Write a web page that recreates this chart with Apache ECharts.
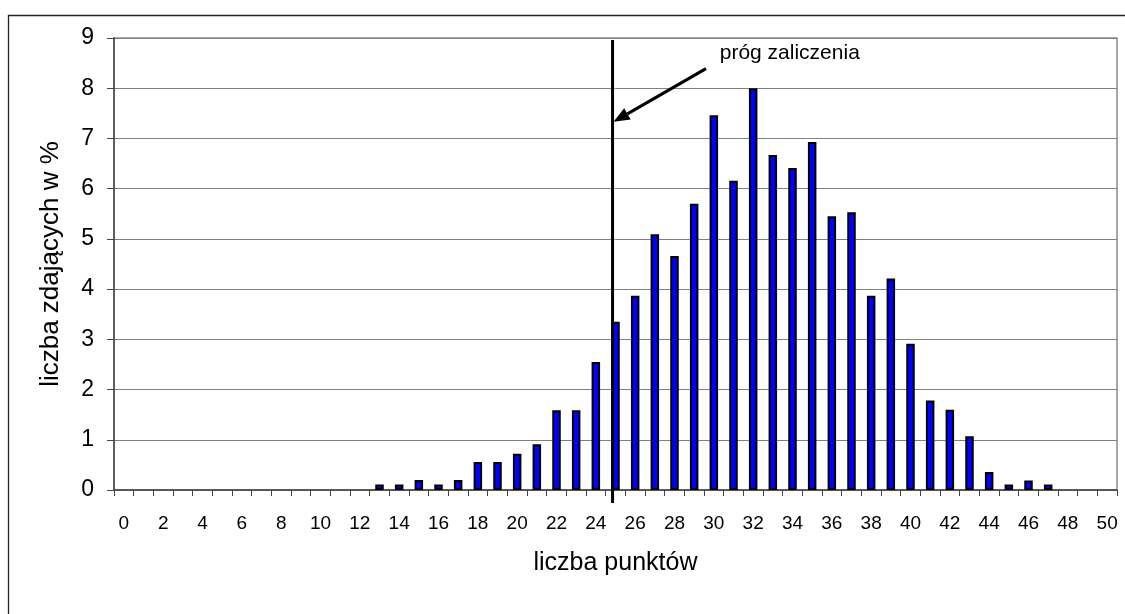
<!DOCTYPE html>
<html>
<head>
<meta charset="utf-8">
<script src="https://cdn.jsdelivr.net/npm/echarts@6/dist/echarts.min.js"></script>
<style>
html,body{margin:0;padding:0;background:#fff;}
#chart{width:1125px;height:614px;}
</style>
</head>
<body>
<div id="chart"></div>
<script>
const categories = ['0','1','2','3','4','5','6','7','8','9','10','11','12','13','14','15','16','17','18','19','20',
  '21','22','23','24','25','26','27','28','29','30','31','32','33','34','35','36','37','38','39','40',
  '41','42','43','44','45','46','47','48','49','50'];
const values = [0,0,0,0,0,0,0,0,0,0,0,0,0,
  0.11,0.11,0.2,0.11,0.2,0.56,0.56,0.72,0.91,1.59,1.59,2.55,
  3.35,3.87,5.09,4.66,5.70,7.46,6.16,8.0,6.67,6.41,6.93,5.45,5.53,3.87,4.21,
  2.91,1.78,1.60,1.07,0.36,0.11,0.19,0.11,0,0,0];
const yTicks = [0,1,2,3,4,5,6,7,8,9];
const xAxisTitle = 'liczba punktów';
const yAxisTitle = 'liczba zdających w %';
const threshold = 25;
const thresholdLabel = 'próg zaliczenia';

const FONT = '"Liberation Sans", Arial, sans-serif';
const chart = echarts.init(document.getElementById('chart'), null, {renderer:'canvas'});
chart.setOption({
  animation:false,
  backgroundColor:'#fff',
  grid:{left:114, top:38, right:8, bottom:124, show:true, borderColor:'#8a8a8a', borderWidth:1.5, backgroundColor:'transparent'},
  xAxis:{
    type:'category', data:categories, boundaryGap:true,
    name:xAxisTitle, nameLocation:'middle', nameGap:61,
    nameTextStyle:{fontFamily:FONT, fontSize:25, color:'#000'},
    axisLine:{lineStyle:{color:'#444', width:1.5}},
    axisTick:{show:true, interval:0, length:6, lineStyle:{color:'#444'}},
    axisLabel:{interval:1, margin:24, fontFamily:FONT, fontSize:19, color:'#000'},
    splitLine:{show:false}
  },
  yAxis:{
    type:'value', min:yTicks[0], max:yTicks[yTicks.length-1], interval:1,
    name:yAxisTitle, nameLocation:'middle', nameGap:50,
    nameTextStyle:{fontFamily:FONT, fontSize:26, color:'#000'},
    axisLine:{show:true, lineStyle:{color:'#444', width:1.5}},
    axisTick:{show:true, length:7, lineStyle:{color:'#444'}},
    axisLabel:{margin:20, fontFamily:FONT, fontSize:23, color:'#000'},
    splitLine:{show:true, lineStyle:{color:'#808080', width:1}}
  },
  series:[{
    type:'bar', data:values.map(v => v === 0 ? '-' : v), barWidth:8.5,
    itemStyle:{color:'#0000ff', borderColor:'#000', borderWidth:2}
  }]
});

function px(idx, val){ return chart.convertToPixel({gridIndex:0}, [idx, val]); }
const c0 = px(threshold, 0), c1 = px(threshold + 1, 0);
const step = c1[0] - c0[0];
const lineX = c0[0] - 0.15 * step;
const yTop = px(threshold, 9)[1] + 2;
const yBot = px(threshold, 0)[1] + 13;
const arrowStart = [px(29, 8.39)[0] + 0.6 * step, px(29, 8.39)[1]];
const tip = [lineX + 1, px(threshold, 7.33)[1]];
const dx = tip[0] - arrowStart[0], dy = tip[1] - arrowStart[1];
const len = Math.hypot(dx, dy), ux = dx / len, uy = dy / len;
const hl = 16, hw = 6.5;
const base = [tip[0] - ux * hl, tip[1] - uy * hl];
const head = [tip, [base[0] - uy * hw, base[1] + ux * hw], [base[0] + uy * hw, base[1] - ux * hw]];
const labelPos = [px(30, 8.7)[0] + 0.3 * step, px(30, 8.7)[1]];

chart.setOption({
  graphic:[
    {type:'rect', shape:{x:8.5, y:15.5, width:1300, height:800}, style:{fill:'none', stroke:'#222', lineWidth:1.3}, silent:true, z:0},
    {type:'line', shape:{x1:lineX, y1:yTop, x2:lineX, y2:yBot}, style:{stroke:'#000', lineWidth:3}, z:10},
    {type:'line', shape:{x1:arrowStart[0], y1:arrowStart[1], x2:base[0], y2:base[1]}, style:{stroke:'#000', lineWidth:3}, z:10},
    {type:'polygon', shape:{points:head}, style:{fill:'#000'}, z:10},
    {type:'text', x:labelPos[0], y:labelPos[1], style:{text:thresholdLabel, font:'21px ' + FONT, fill:'#000', textVerticalAlign:'middle', textAlign:'left'}, z:10}
  ]
});
</script>
</body>
</html>
